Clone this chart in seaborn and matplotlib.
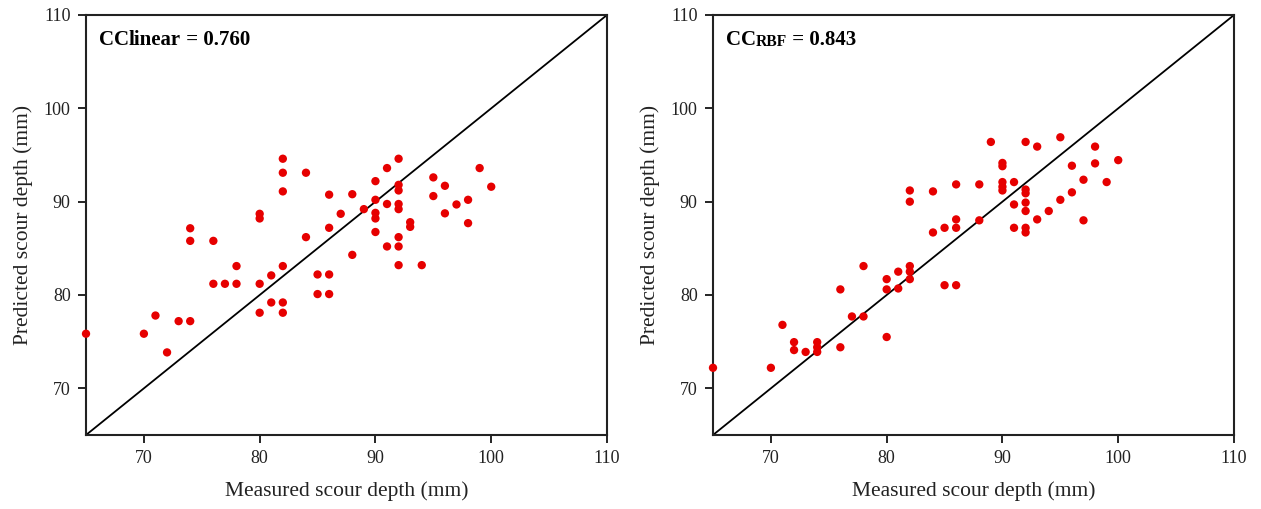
import matplotlib
matplotlib.use("Agg")
import matplotlib.pyplot as plt
import seaborn as sns
import pandas as pd

# Linear model: measured vs predicted
lin_measured = [65, 70, 71, 72, 73, 74, 74, 74, 76, 76, 77, 78, 78, 80, 80, 80, 80, 81, 81,
                82, 82, 82, 82, 82, 82, 84, 84, 85, 85, 86, 86, 86, 86, 87, 88, 88, 89,
                90, 90, 90, 90, 90, 91, 91, 91, 92, 92, 92, 92, 92, 92, 92, 92, 93, 93, 94,
                95, 95, 96, 96, 97, 98, 98, 99, 100]
lin_predicted = [75.85, 75.85, 77.8, 73.85, 77.2, 77.2, 87.15, 85.8, 85.8, 81.2, 81.2, 81.2, 83.1,
                 88.7, 88.2, 81.2, 78.1, 82.1, 79.2,
                 94.6, 93.1, 91.1, 83.1, 79.2, 78.1, 93.1, 86.2, 82.2, 80.1, 82.2, 80.1, 90.75, 87.2,
                 88.7, 90.8, 84.3, 89.2,
                 92.2, 90.2, 88.8, 88.2, 86.75, 93.6, 89.75, 85.2, 94.6, 91.8, 91.2, 89.75, 89.2,
                 86.2, 85.2, 83.2, 87.8, 87.3, 83.2,
                 92.6, 90.6, 91.7, 88.75, 89.7, 90.2, 87.7, 93.6, 91.6]

# RBF model: measured vs predicted
rbf_measured = [65, 70, 71, 72, 72, 73, 74, 74, 74, 76, 76, 77, 78, 78, 80, 80, 80, 81, 81,
                82, 82, 82, 82, 82, 84, 84, 85, 85, 86, 86, 86, 86, 88, 88, 89,
                90, 90, 90, 90, 90, 91, 91, 91, 92, 92, 92, 92, 92, 92, 92, 93, 93, 94,
                95, 95, 96, 96, 97, 97, 98, 98, 99, 100]
rbf_predicted = [72.2, 72.2, 76.8, 74.95, 74.1, 73.9, 74.95, 74.4, 73.9, 74.4, 80.6, 77.7, 77.7, 83.1,
                 75.5, 81.7, 80.6, 82.5, 80.7,
                 83.1, 82.5, 81.7, 91.2, 90.0, 91.1, 86.7, 87.2, 81.05, 91.85, 88.1, 87.2, 81.05,
                 91.85, 88.0, 96.4,
                 94.15, 93.8, 92.1, 91.6, 91.2, 92.1, 89.7, 87.2, 96.4, 91.3, 90.9, 89.9, 89.0,
                 87.2, 86.7, 95.9, 88.1, 89.0,
                 96.9, 90.2, 93.85, 91.0, 92.35, 88.0, 95.9, 94.1, 92.1, 94.45]

x_ticks = [70, 80, 90, 100, 110]
y_ticks = [70, 80, 90, 100, 110]
axis_min, axis_max = 65, 110
cc_values = ["0.760", "0.843"]
cc_subscripts = ["linear", "RBF"]

sns.set_theme(style="white")
plt.rcParams['font.family'] = ['Liberation Serif', 'DejaVu Serif']

fig = plt.figure(figsize=(12.61, 5.09), dpi=100)
ax1 = fig.add_axes([86/1261, 74/509, 521/1261, 420/509])
ax2 = fig.add_axes([713/1261, 74/509, 521/1261, 420/509])

datasets = [
    pd.DataFrame({"measured": lin_measured, "predicted": lin_predicted}),
    pd.DataFrame({"measured": rbf_measured, "predicted": rbf_predicted}),
]

for i, (ax, df) in enumerate(zip([ax1, ax2], datasets)):
    ax.plot([axis_min, axis_max], [axis_min, axis_max], color="black", lw=1.3, zorder=1)
    sns.scatterplot(data=df, x="measured", y="predicted", ax=ax, color="#e60000",
                    s=36, edgecolor="none", zorder=3, clip_on=False)
    ax.set_xlim(axis_min, axis_max)
    ax.set_ylim(axis_min, axis_max)
    ax.set_xticks(x_ticks)
    ax.set_yticks(y_ticks)
    ax.tick_params(axis="both", direction="out", length=6, width=1.2, color="black",
                   labelsize=13, labelcolor="#222222", bottom=True, left=True, pad=5)
    for sp in ax.spines.values():
        sp.set_color("#222222")
        sp.set_linewidth(1.5)
    ax.set_xlabel("Measured scour depth (mm)", fontsize=15.5, color="#222222", labelpad=10)
    ax.set_ylabel("Predicted scour depth (mm)", fontsize=15.5, color="#222222", labelpad=8)

# Annotations
fig.canvas.draw()
renderer = fig.canvas.get_renderer()
fs = 15
for ax, sub, val in zip([ax1, ax2], cc_subscripts, cc_values):
    t1 = ax.text(0.024, 0.928, "CC", transform=ax.transAxes, fontsize=fs,
                 fontweight="bold", va="baseline", ha="left", color="black")
    bb = t1.get_window_extent(renderer=renderer)
    sub_fs = fs * 0.75 if sub == "RBF" else fs
    t2 = ax.annotate(sub, xy=(bb.x1, bb.y0), xycoords="figure pixels",
                     fontsize=sub_fs, fontweight="bold", va="bottom", ha="left",
                     color="black")
    bb2 = t2.get_window_extent(renderer=renderer)
    ax.annotate(" = " + val, xy=(bb2.x1, bb.y0), xycoords="figure pixels",
                fontsize=fs, fontweight="bold", va="bottom", ha="left", color="black")

fig.savefig("out.png", dpi=100, facecolor="white")
